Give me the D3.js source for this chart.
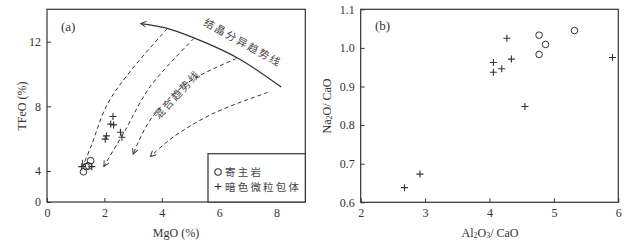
<!DOCTYPE html>
<html><head><meta charset="utf-8">
<script src="https://cdn.jsdelivr.net/npm/d3@7"></script>
<style>body{margin:0;background:#fff}svg{display:block}</style>
</head><body>
<svg id="c" width="633" height="244"></svg>
<script>
// ---- Panel (a) data: MgO (%) vs TFeO (%)
const hostMgO  = [1.27, 1.37, 1.45, 1.52];
const hostTFeO = [3.9, 4.27, 4.31, 4.64];
const encMgO   = [1.21, 1.56, 2.30, 2.22, 2.32, 2.07, 2.03, 2.56, 2.61];
const encTFeO  = [4.27, 4.27, 7.37, 6.90, 6.85, 6.17, 5.97, 6.40, 6.09];
// trend curves (annotation paths in data units)
const fracCurve = [[8.16,9.19],[6.64,10.99],[5.12,12.23],[4.13,12.85],[3.26,13.12]];
const mixCurves = [
  [[4.19,12.8],[2.9,10.16],[2.09,8.09],[1.55,5.6],[1.25,4.3]],
  [[5.12,12.2],[3.6,9.23],[2.67,6.34],[2.15,4.79],[1.98,4.27]],
  [[6.6,10.95],[4.89,9.44],[3.6,7.16],[3.0,5.04]],
  [[7.69,8.86],[5.82,7.58],[4.42,6.13],[3.6,4.89]]
];
const aXTicks = [0,2,4,6,8];
const aYTicks = [0,4,8,12];
// ---- Panel (b) data: Al2O3/CaO vs Na2O/CaO
const hostAl = [4.77, 4.87, 4.77, 5.32];
const hostNa = [1.033, 1.009, 0.983, 1.045];
const encAl  = [2.68, 2.92, 4.06, 4.06, 4.19, 4.27, 4.34, 4.55, 5.91];
const encNa  = [0.638, 0.673, 0.962, 0.937, 0.946, 1.025, 0.971, 0.848, 0.975];
const bXTicks = [2,3,4,5,6];
const bYTicks = [0.6,0.7,0.8,0.9,1.0,1.1];
const legendLabels = ["寄主岩","暗色微粒包体"];

const svg = d3.select("#c");
const ink = "#333";
const soft = "#444";
const serif = "'Liberation Serif','DejaVu Serif',serif";
const cjk = "'Noto Sans CJK SC','Noto Sans CJK JP',sans-serif";

function crossPath(x,y,s){return `M${x-s},${y}H${x+s}M${x},${y-s}V${y+s}`;}

function frame(g, x0,x1,y0,y1){
  g.append("rect").attr("x",x0).attr("y",y0).attr("width",x1-x0).attr("height",y1-y0)
   .attr("fill","none").attr("stroke",ink).attr("stroke-width",1.2);
}

// ================= Panel (a)
const ax = d3.scaleLinear().domain([0,9]).range([47,305.3]);
const ay = d3.scaleLinear().domain([0,4,14]).range([202,171,9.3]);
const ga = svg.append("g");
frame(ga, 47,305.3,9.3,202);
const axB = d3.axisBottom(ax).tickValues(aXTicks).tickSize(-4).tickPadding(6).tickFormat(d3.format("d"));
ga.append("g").attr("transform","translate(0,202)").call(axB);
const ayL = d3.axisLeft(ay).tickValues(aYTicks).tickSize(-4).tickPadding(6).tickFormat(d3.format("d"));
ga.append("g").attr("transform","translate(47,0)").call(ayL);

const line = d3.line().x(d=>ax(d[0])).y(d=>ay(d[1])).curve(d3.curveCatmullRom.alpha(0.5));
// arrow marker
const defs = svg.append("defs");
defs.append("marker").attr("id","arr").attr("viewBox","0 0 10 10").attr("refX",9).attr("refY",5)
  .attr("markerWidth",7).attr("markerHeight",7).attr("markerUnits","userSpaceOnUse").attr("orient","auto")
  .append("path").attr("d","M1,1 L9,5 L1,9").attr("fill","none").attr("stroke",ink).attr("stroke-width",1.3);
ga.append("path").attr("d",line(fracCurve)).attr("fill","none").attr("stroke",ink).attr("stroke-width",1.3)
  .attr("marker-end","url(#arr)");
mixCurves.forEach(c=>{
  ga.append("path").attr("d",line(c)).attr("fill","none").attr("stroke",ink).attr("stroke-width",1)
    .attr("stroke-dasharray","4,3").attr("marker-end","url(#arr)");
});
// points
ga.selectAll(".ha").data(hostMgO).join("circle").attr("cx",(d)=>ax(d)).attr("cy",(d,i)=>ay(hostTFeO[i]))
  .attr("r",3.3).attr("fill","none").attr("stroke",ink).attr("stroke-width",1);
ga.selectAll(".ea").data(encMgO).join("path").attr("d",(d,i)=>crossPath(ax(d),ay(encTFeO[i]),3.5))
  .attr("stroke",ink).attr("stroke-width",1.1);
// annotations
ga.append("text").attr("transform","translate(241,46) rotate(29)").attr("text-anchor","middle")
  .attr("font-family",cjk).attr("font-size",10.5).attr("letter-spacing",2).attr("fill",soft).text("结晶分异趋势线");
ga.append("text").attr("transform","translate(180,97) rotate(-47)").attr("text-anchor","middle")
  .attr("font-family",cjk).attr("font-size",10.5).attr("letter-spacing",2).attr("fill",soft).text("混合趋势线");
ga.append("text").attr("x",61).attr("y",31).attr("font-family",serif).attr("font-size",13).attr("fill",ink).text("(a)");
// legend
ga.append("rect").attr("x",208).attr("y",153.7).attr("width",97.3).attr("height",48.3)
  .attr("fill","#fff").attr("stroke",ink).attr("stroke-width",1.2);
ga.append("circle").attr("cx",218).attr("cy",172).attr("r",3.2).attr("fill","none").attr("stroke",ink).attr("stroke-width",1.1);
ga.append("path").attr("d",crossPath(218,186.5,3.3)).attr("stroke",ink).attr("stroke-width",1.1);
legendLabels.forEach((t,i)=>{
  ga.append("text").attr("x",225).attr("y",176+i*14.5).attr("font-family",cjk).attr("font-size",10.5)
    .attr("letter-spacing",2.2).attr("fill",soft).text(t);
});
ga.append("text").attr("x",176).attr("y",237).attr("text-anchor","middle").attr("font-family",serif)
  .attr("font-size",12).attr("fill",ink).text("MgO (%)");
ga.append("text").attr("transform","translate(26,106) rotate(-90)").attr("text-anchor","middle").attr("font-family",serif)
  .attr("font-size",12).attr("fill",ink).text("TFeO (%)");

// ================= Panel (b)
const bx = d3.scaleLinear().domain([2,6]).range([360.7,618.3]);
const by = d3.scaleLinear().domain([0.6,1.1]).range([202.3,9.3]);
const gb = svg.append("g");
frame(gb, 360.7,618.3,9.3,202.3);
gb.append("g").attr("transform","translate(0,202.3)")
  .call(d3.axisBottom(bx).tickValues(bXTicks).tickSize(-4).tickPadding(6).tickFormat(d3.format("d")));
gb.append("g").attr("transform","translate(360.7,0)")
  .call(d3.axisLeft(by).tickValues(bYTicks).tickSize(-4).tickPadding(6).tickFormat(d3.format(".1f")));
gb.selectAll(".hb").data(hostAl).join("circle").attr("cx",d=>bx(d)).attr("cy",(d,i)=>by(hostNa[i]))
  .attr("r",3.3).attr("fill","none").attr("stroke",ink).attr("stroke-width",1);
gb.selectAll(".eb").data(encAl).join("path").attr("d",(d,i)=>crossPath(bx(d),by(encNa[i]),3.5))
  .attr("stroke",ink).attr("stroke-width",1.1);
gb.append("text").attr("x",375).attr("y",30).attr("font-family",serif).attr("font-size",13).attr("fill",ink).text("(b)");
const xl = gb.append("text").attr("x",490).attr("y",237).attr("text-anchor","middle").attr("font-family",serif)
  .attr("font-size",12).attr("fill",ink);
xl.append("tspan").text("Al");
xl.append("tspan").attr("font-size",8).attr("dy",1).text("2");
xl.append("tspan").attr("dy",-1).text("O");
xl.append("tspan").attr("font-size",8).attr("dy",1).text("3");
xl.append("tspan").attr("dy",-1).text("/ CaO");
const yl = gb.append("text").attr("transform","translate(331,106) rotate(-90)").attr("text-anchor","middle")
  .attr("font-family",serif).attr("font-size",12).attr("fill",ink);
yl.append("tspan").text("Na");
yl.append("tspan").attr("font-size",8).attr("dy",1).text("2");
yl.append("tspan").attr("dy",-1).text("O/ CaO");

// axis styling
svg.selectAll(".domain").remove();
svg.selectAll(".tick line").attr("stroke",ink).attr("stroke-width",1);
svg.selectAll(".tick text").attr("font-family",serif).attr("font-size",12).attr("fill",ink);
</script>
</body></html>
